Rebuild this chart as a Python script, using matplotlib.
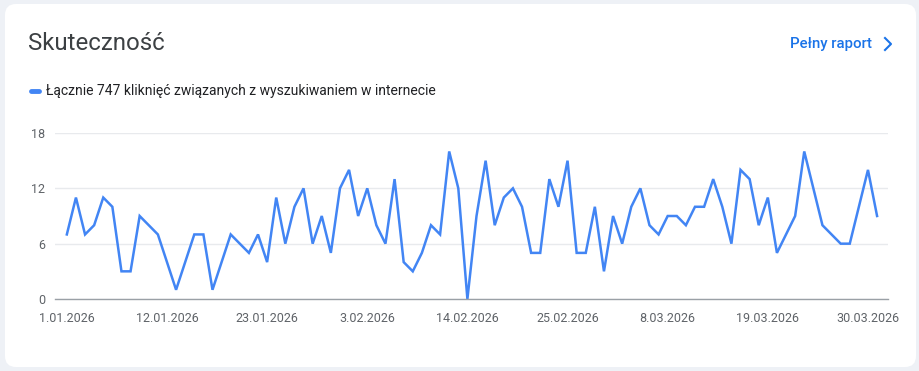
import pandas as pd
import matplotlib.pyplot as plt
from matplotlib.patches import FancyBboxPatch

# daily web search clicks, 1 Jan - 31 Mar 2026
clicks = [7, 11, 7, 8, 11, 10, 3, 3, 9, 8, 7, 4, 1, 4, 7, 7, 1, 4, 7, 6, 5,
          7, 4, 11, 6, 10, 12, 6, 9, 5, 12, 14, 9, 12, 8, 6, 13, 4, 3, 5, 8, 7, 16, 12, 0,
          9, 15, 8, 11, 12, 10, 5, 5, 13, 10, 15, 5, 5, 10, 3, 9, 6, 10, 12, 8, 7, 9, 9, 8,
          10, 10, 13, 10, 6, 14, 13, 8, 11, 5, 7, 9, 16, 12, 8, 7, 6, 6, 10, 14, 9]
dates = pd.date_range('2026-01-01', periods=len(clicks), freq='D')
y_ticks = [0, 6, 12, 18]
tick_step = 11

title = 'Skuteczność'
legend_text = f'Łącznie {sum(clicks)} kliknięć związanych z wyszukiwaniem w internecie'
link_text = 'Pełny raport'

plt.rcParams['font.family'] = ['Roboto', 'DejaVu Sans']

W, H = 920, 371
fig = plt.figure(figsize=(W / 100, H / 100), dpi=100)
fig.patch.set_facecolor('#eef1f6')

# white card (behind everything)
card = FancyBboxPatch((5 / W, 4 / H), 911 / W, 363 / H,
                      boxstyle='round,pad=0,rounding_size=0.012',
                      transform=fig.transFigure, facecolor='white',
                      edgecolor='none', mutation_aspect=W / H, zorder=-10)
fig.patches.append(card)

fig.text(28 / W, 1 - 44 / H, title, fontsize=17.3, color='#3c4043', va='center')
fig.text(790 / W, 1 - 44 / H, link_text, fontsize=10.8, color='#1a73e8',
         va='center', fontweight='medium')
# chevron
fig.add_artist(plt.Line2D([885 / W, 891 / W, 885 / W],
                          [1 - 38 / H, 1 - 44 / H, 1 - 50 / H],
                          color='#1a73e8', linewidth=1.5))

# legend
fig.add_artist(plt.Line2D([31 / W, 39 / W], [1 - 91 / H, 1 - 91 / H],
                          color='#4285f4', linewidth=3.5, solid_capstyle='round'))
fig.text(46 / W, 1 - 91 / H, legend_text, fontsize=10, color='#202124', va='center')

ax = fig.add_axes([55 / W, 72 / H, 833 / W, 166 / H])
ax.set_zorder(5)
x = list(range(len(clicks)))
ax.plot(x, clicks, color='#4285f4', linewidth=1.8, solid_joinstyle='miter')
ax.set_xlim(-1.3, len(clicks) - 1 + 1.2)
ax.set_ylim(0, 18)
ax.set_yticks(y_ticks)
ax.set_yticklabels([str(v) for v in y_ticks])
xt = list(range(0, len(clicks), tick_step))
ax.set_xticks(xt)
ax.set_xticklabels([f'{d.day}.{d.month:02d}.{d.year}' for d in dates[xt]])
ax.tick_params(length=0, labelsize=9, labelcolor='#5f6368')
ax.tick_params(axis='y', pad=7)
ax.tick_params(axis='x', pad=9)
ax.grid(axis='y', color='#e8eaed', linewidth=1)
ax.set_axisbelow(True)
for s in ['top', 'right', 'left']:
    ax.spines[s].set_visible(False)
ax.spines['bottom'].set_color('#9aa0a6')
ax.spines['bottom'].set_linewidth(1)
ax.set_facecolor('none')

fig.savefig('out.png', dpi=100, facecolor=fig.get_facecolor())
